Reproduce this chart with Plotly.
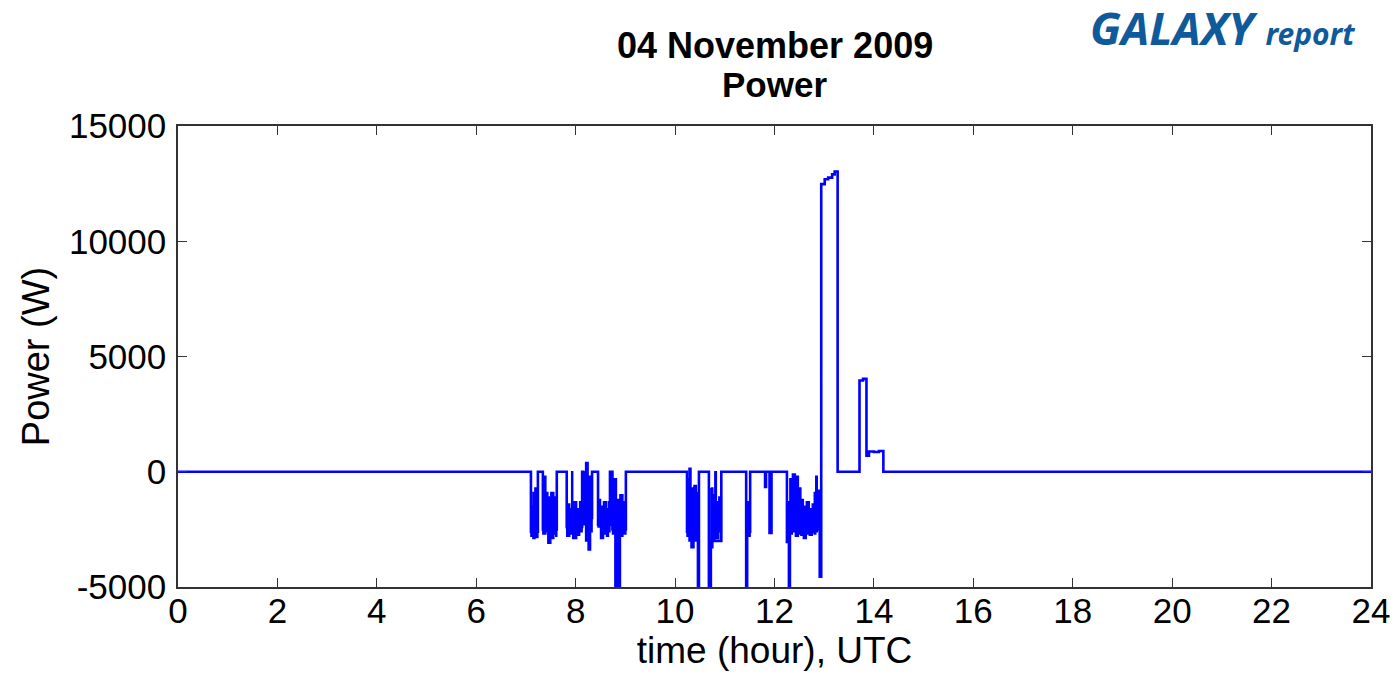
import plotly.graph_objects as go

# ---- main step trace (hour, W), value held until next time ----
t_main = [0, 7.10, 7.24, 7.34, 7.62, 7.82, 8.13, 8.15, 8.33, 8.45, 8.69, 8.74, 8.80, 8.82,
          8.87, 8.89, 9.01, 10.24, 10.46, 10.48, 10.68, 10.72, 10.93, 11.43, 11.45, 11.51,
          11.81, 11.83, 11.90, 11.94, 12.25, 12.29, 12.31, 12.91, 12.94, 13.01, 13.08,
          13.16, 13.21, 13.27, 13.71, 13.78, 13.85, 13.90, 14.00, 14.10, 14.19, 24]
p_main = [0, -2600, 0, -2500, 0, -2400, 0, -2000, 0, -2300, 0, -2500, -5600, -2400,
          -5600, -2500, 0, -2600, -5600, 0, -5600, -3000, 0, -5600, -2600, 0,
          -660, 0, -2650, 0, -3050, -5600, -2500, -4550, 12480, 12690, 12760,
          12900, 13020, 0, 3960, 4030, 700, 880, 860, 900, 0, 0]

# ---- fluctuation band (min/max envelope), None marks segment end ----
band_t = [7.10, 7.14, 7.18, 7.21, 7.24,
          7.34, 7.40, 7.44, 7.50, 7.56, 7.60, 7.62,
          7.82, 7.88, 7.92, 7.94, 8.02, 8.08, 8.13,
          8.15, 8.20, 8.25, 8.30, 8.33,
          8.45, 8.50, 8.56, 8.62, 8.66, 8.69,
          8.74, 8.82, 8.89, 8.95, 8.99, 9.01,
          10.24, 10.28, 10.32, 10.38, 10.43, 10.47,
          10.72, 10.76, 10.80, 10.83, 10.88, 10.93,
          11.45, 11.51,
          12.25, 12.31, 12.36, 12.42, 12.48, 12.53, 12.58, 12.64, 12.70, 12.76, 12.80,
          12.83, 12.86, 12.91]
band_hi = [-1500, -900, -700, -1200, None,
           -200, -900, -1100, -900, -1100, -1800, None,
           -1400, -1600, 0, -1300, -1600, -1300, None,
           0, 400, -200, -1200, None,
           -1200, -1500, -1300, -1600, -1300, None,
           -300, -1200, -1000, -1300, -2000, None,
           -300, 150, -700, -600, -900, None,
           -700, -1000, 0, -1300, -1100, None,
           -1300, None,
           -1300, -300, -100, -200, -700, -1200, -1500, -1300, -1600, -1400, -900,
           -200, -800, None]
band_lo = [-2800, -2900, -2600, -2850, None,
           -2700, -2600, -3100, -2900, -2700, -2800, None,
           -2800, -2700, -2700, -2900, -2750, -2600, None,
           -2300, -3000, -3400, -2600, None,
           -2400, -2900, -2700, -2800, -2600, None,
           -2700, -2900, -2800, -2700, -2700, None,
           -2800, -3000, -3300, -3000, -2900, None,
           -3300, -3000, -2800, -2900, -2600, None,
           -2800, None,
           -3050, -2700, -2600, -2800, -2700, -2750, -2900, -2700, -2750, -2650, -2700,
           -2600, -2500, None]

x_ticks = [0, 2, 4, 6, 8, 10, 12, 14, 16, 18, 20, 22, 24]
y_ticks = [-5000, 0, 5000, 10000, 15000]
y_tick_text = ["-5000", "0", "5000", "10000", "15000"]

BLUE = "#0000FF"
fig = go.Figure()

# one step-shaped band polygon per segment, built from the envelope knots
seg = []
for t, hi, lo in zip(band_t, band_hi, band_lo):
    if hi is None:
        ts = [k[0] for k in seg] + [t]
        ux, uy, lx, ly = [], [], [], []
        for i, (tk, h, l) in enumerate(seg):
            ux += [ts[i], ts[i + 1]]
            uy += [h, h]
            lx += [ts[i], ts[i + 1]]
            ly += [l, l]
        px = ux + lx[::-1] + [ux[0]]
        py = uy + ly[::-1] + [uy[0]]
        fig.add_trace(go.Scatter(x=px, y=py, mode="lines", fill="toself",
                                 fillcolor=BLUE, line=dict(color=BLUE, width=1.5),
                                 hoverinfo="skip", showlegend=False))
        seg = []
    else:
        seg.append((t, hi, lo))

fig.add_trace(go.Scatter(x=t_main, y=p_main, mode="lines", line_shape="hv",
                         line=dict(color=BLUE, width=2.6), showlegend=False))

font_main = "Liberation Sans, Arial, sans-serif"
fig.update_layout(
    width=1396, height=688,
    margin=dict(l=178, r=25, t=126, b=101, autoexpand=False),
    paper_bgcolor="white", plot_bgcolor="white",
    font=dict(family=font_main, color="black", size=35),
    showlegend=False,
)
fig.update_xaxes(range=[0, 24], tickvals=x_ticks, ticks="inside", ticklen=9,
                 tickcolor="#333333", showline=True, linecolor="#333333", linewidth=1.5,
                 mirror="ticks", showgrid=False, zeroline=False, automargin=False,
                 tickfont=dict(size=35), ticklabelstandoff=-8,
                 title=dict(text="time (hour), UTC", font=dict(size=37), standoff=8))
fig.update_yaxes(range=[-5000, 15000], tickvals=y_ticks, ticktext=y_tick_text,
                 ticks="inside", ticklen=9, tickcolor="#333333", showline=True,
                 linecolor="#333333", linewidth=1.5, mirror="ticks", showgrid=False,
                 zeroline=False, automargin=False, tickfont=dict(size=35),
                 ticklabelstandoff=3,
                 title=dict(text="Power (W)", font=dict(size=38), standoff=8))

# title lines
fig.add_annotation(xref="paper", yref="paper", x=0.5, y=1.0, yanchor="middle",
                   yshift=81, showarrow=False, text="<b>04 November 2009</b>",
                   font=dict(family=font_main, size=36, color="black"))
fig.add_annotation(xref="paper", yref="paper", x=0.5, y=1.0, yanchor="middle",
                   yshift=42, showarrow=False, text="<b>Power</b>",
                   font=dict(family=font_main, size=35, color="black"))

# logo
fig.add_annotation(xref="paper", yref="paper", x=1.0, y=1.0, xanchor="right",
                   yanchor="top", xshift=-14, yshift=131, showarrow=False,
                   text="<b><i>GALAXY</i></b> <b><i><span style='font-size:30px'>report</span></i></b>",
                   font=dict(family="Noto Sans, sans-serif", size=45, color="#0F5A9A"))

fig.write_html("out.html", config={"displayModeBar": False},
               post_script="document.body.style.margin='0';")
